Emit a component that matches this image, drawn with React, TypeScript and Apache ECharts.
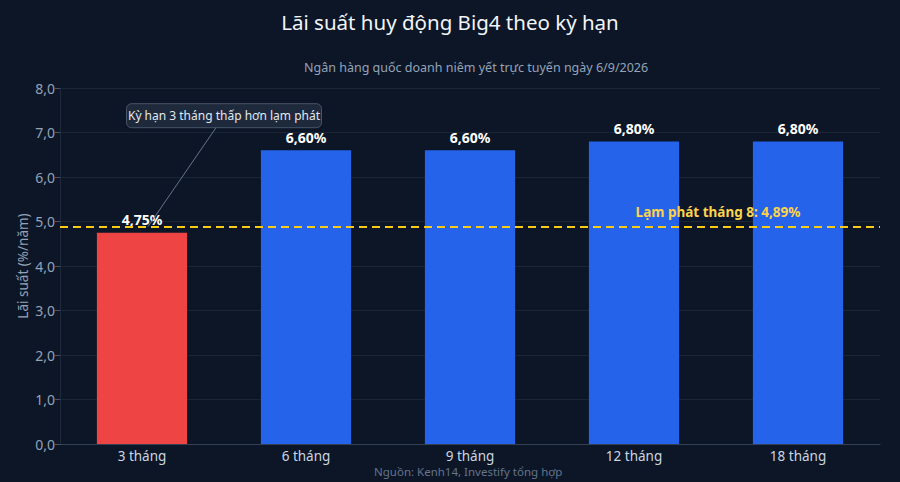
import React, { useEffect, useRef } from "react";
import * as echarts from "echarts";

const categories = ["3 tháng", "6 tháng", "9 tháng", "12 tháng", "18 tháng"];
const rates = [4.75, 6.6, 6.6, 6.8, 6.8];
const barColors = ["#ef4444", "#2563eb", "#2563eb", "#2563eb", "#2563eb"];
const inflation = 4.89;
const inflationLabel = "Lạm phát tháng 8: 4,89%";
const noteText = "Kỳ hạn 3 tháng thấp hơn lạm phát";
const noteValue = 7.4;
const titleText = "Lãi suất huy động Big4 theo kỳ hạn";
const subtitleText = "Ngân hàng quốc doanh niêm yết trực tuyến ngày 6/9/2026";
const sourceText = "Nguồn: Kenh14, Investify tổng hợp";
const yName = "Lãi suất (%/năm)";

const FONT = "Noto Sans";
const fmt = (v: number, d: number) => v.toFixed(d).replace(".", ",");

export default function App() {
  const ref = useRef<HTMLDivElement>(null);
  useEffect(() => {
    document.body.style.margin = "0";
    const chart = echarts.init(ref.current!, undefined, { renderer: "svg" });
    chart.setOption({
      animation: false,
      backgroundColor: "#0c1627",
      textStyle: { fontFamily: FONT },
      title: [
        {
          text: titleText,
          left: "center",
          top: 6,
          textStyle: { color: "#f1f5f9", fontSize: 20.5, fontWeight: "normal", fontFamily: FONT },
        },
        {
          text: subtitleText,
          left: 299,
          top: 56,
          textStyle: { color: "#94a3b8", fontSize: 12.5, fontWeight: "normal", fontFamily: FONT },
        },
        {
          text: sourceText,
          left: 369,
          top: 460,
          textStyle: { color: "#64748b", fontSize: 11.5, fontWeight: "normal", fontFamily: FONT },
        },
      ],
      grid: { left: 60, right: 20, top: 88, bottom: 38 },
      xAxis: {
        type: "category",
        data: categories,
        axisLine: { lineStyle: { color: "#334155" } },
        axisTick: { alignWithLabel: true, length: 4, lineStyle: { color: "#475569" } },
        axisLabel: { color: "#cbd5e1", fontSize: 13.5, margin: 5, fontFamily: FONT },
      },
      yAxis: {
        type: "value",
        min: 0,
        max: 8,
        interval: 1,
        name: yName,
        nameLocation: "middle",
        nameGap: 30,
        nameMoveOverlap: false,
        nameTextStyle: { color: "#94a3b8", fontSize: 13.5, fontFamily: FONT },
        axisLine: { show: true, lineStyle: { color: "#1e293b" } },
        axisTick: { show: true, length: 5, lineStyle: { color: "#475569" } },
        axisLabel: { color: "#94a3b8", fontSize: 14, margin: 5, fontFamily: FONT, formatter: (v: number) => fmt(v, 1) },
        splitLine: { lineStyle: { color: "#1a2536" } },
      },
      series: [
        {
          type: "bar",
          data: rates.map((v, i) => ({ value: v, itemStyle: { color: barColors[i] } })),
          barWidth: "55%",
          label: {
            show: true,
            position: "top",
            distance: 6,
            color: "#ffffff",
            fontSize: 14,
            fontWeight: "bold",
            fontFamily: FONT,
            formatter: (p: any) => fmt(p.value, 2) + "%",
          },
          markLine: {
            symbol: "none",
            silent: true,
            label: { show: false },
            lineStyle: { color: "#facc15", type: [8, 5], width: 2 },
            data: [{ yAxis: inflation }],
          },
        },
      ],
    });

    const p0 = chart.convertToPixel({ gridIndex: 0 }, [0, 0]) as number[];
    const p1 = chart.convertToPixel({ gridIndex: 0 }, [1, 0]) as number[];
    const band = p1[0] - p0[0];
    const inflPx = chart.convertToPixel({ gridIndex: 0 }, [3, inflation]) as number[];
    const notePx = chart.convertToPixel({ gridIndex: 0 }, [0, noteValue]) as number[];
    const barTop = chart.convertToPixel({ gridIndex: 0 }, [0, rates[0]]) as number[];
    const boxW = 195;
    const boxH = 24;
    const boxCx = notePx[0] + band / 2;
    const boxCy = notePx[1] + 1;

    chart.setOption({
      graphic: [
        {
          type: "line",
          shape: { x1: boxCx - 8, y1: boxCy + boxH / 2, x2: barTop[0] + 6, y2: barTop[1] - 6 },
          style: { stroke: "#64748b", lineWidth: 1 },
          z: 10,
        },
        {
          type: "rect",
          shape: { x: boxCx - boxW / 2, y: boxCy - boxH / 2, width: boxW, height: boxH, r: 5 },
          style: { fill: "#1e293b", stroke: "#475569", lineWidth: 1 },
          z: 11,
        },
        {
          type: "text",
          x: boxCx,
          y: boxCy,
          style: {
            text: noteText,
            fill: "#e2e8f0",
            fontSize: 12,
            fontFamily: FONT,
            align: "center",
            verticalAlign: "middle",
          },
          z: 12,
        },
        {
          type: "text",
          x: inflPx[0] + band / 2 + 2,
          y: inflPx[1] - 14,
          style: {
            text: inflationLabel,
            fill: "#fcd34d",
            fontSize: 13.5,
            fontWeight: "bold",
            fontFamily: FONT,
            align: "center",
            verticalAlign: "middle",
          },
          z: 12,
        },
      ],
    });
    return () => chart.dispose();
  }, []);
  return <div ref={ref} style={{ width: 900, height: 482 }} />;
}
